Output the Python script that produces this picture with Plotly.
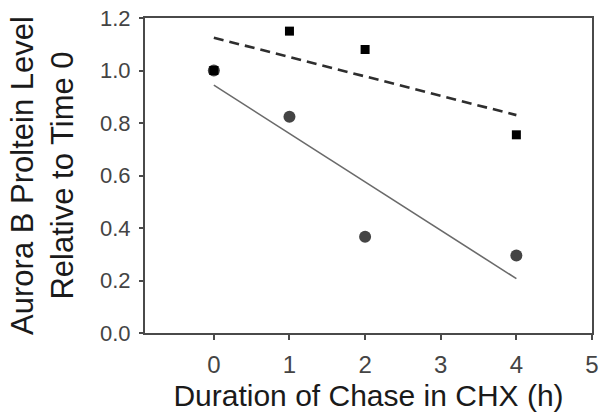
import plotly.graph_objects as go

# Data
hours = [0, 1, 2, 4]
squares = [1.00, 1.15, 1.08, 0.755]
circles = [1.00, 0.824, 0.367, 0.295]

fit_x = [0, 4]
fit_squares = [1.125, 0.830]
fit_circles = [0.944, 0.207]

x_ticks = [0, 1, 2, 3, 4, 5]
y_ticks = [0.0, 0.2, 0.4, 0.6, 0.8, 1.0, 1.2]

fig = go.Figure()

fig.add_trace(go.Scatter(x=fit_x, y=fit_circles, mode="lines",
                         line=dict(color="#6a6a6a", width=1.6), showlegend=False))
fig.add_trace(go.Scatter(x=fit_x, y=fit_squares, mode="lines",
                         line=dict(color="#2e2e2e", width=2.6, dash="10px,6px"), showlegend=False))
fig.add_trace(go.Scatter(x=hours, y=circles, mode="markers",
                         marker=dict(symbol="circle", size=12, color="#444444"), showlegend=False))
fig.add_trace(go.Scatter(x=hours, y=squares, mode="markers",
                         marker=dict(symbol="square", size=9, color="#000000"), showlegend=False))

font_family = "Liberation Sans, Arial, sans-serif"

fig.update_layout(
    width=605, height=414,
    margin=dict(l=145, r=6, t=17, b=81),
    paper_bgcolor="white", plot_bgcolor="white",
    font=dict(family=font_family, color="#222222"),
)

fig.update_xaxes(
    range=[-0.91, 5], tickvals=x_ticks, ticktext=[str(t) for t in x_ticks],
    showgrid=False, zeroline=False,
    showline=True, linecolor="#4a4a4a", linewidth=2, mirror=True,
    ticks="outside", ticklen=5, tickwidth=2, tickcolor="#4a4a4a",
    ticklabelstandoff=4,
    tickfont=dict(size=24, color="#444444"),
    title=dict(text="Duration of Chase in CHX (h)", font=dict(size=30, color="#1a1a1a"), standoff=8),
)
fig.update_yaxes(
    range=[0, 1.2], tickvals=y_ticks, ticktext=[f"{v:.1f}" for v in y_ticks],
    showgrid=False, zeroline=False,
    showline=True, linecolor="#4a4a4a", linewidth=2, mirror=True,
    ticks="outside", ticklen=4, tickwidth=2, tickcolor="#4a4a4a",
    ticklabelstandoff=4,
    tickfont=dict(size=22, color="#444444"),
    title=dict(text="Aurora B Proltein Level<br>Relative to Time 0", font=dict(size=31, color="#1a1a1a"), standoff=17),
)

fig.write_html("out.html")
